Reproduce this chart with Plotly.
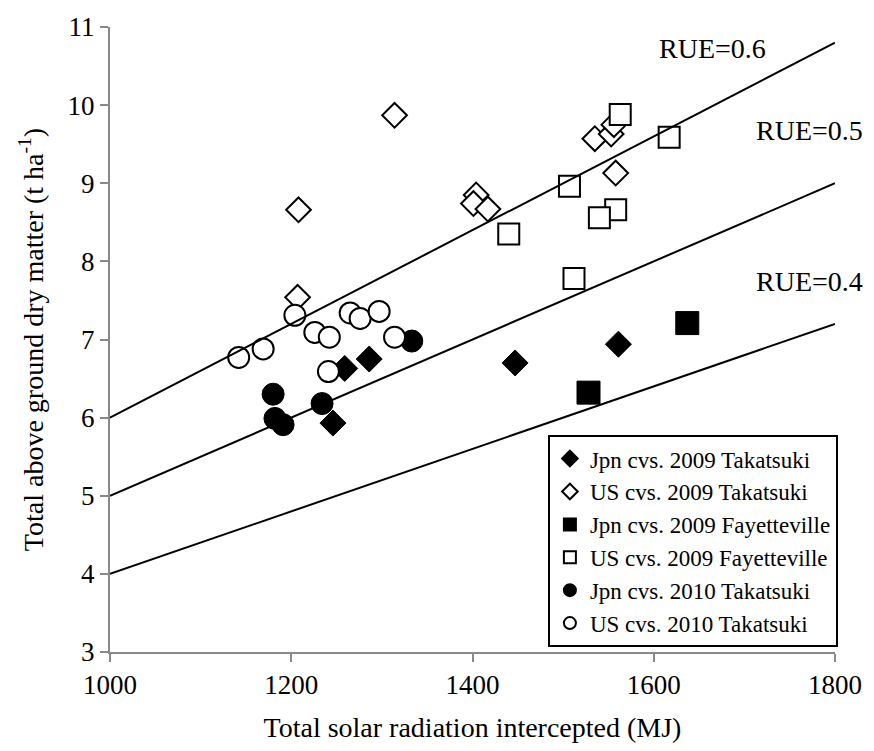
import plotly.graph_objects as go

# ---- data ----
jpn09_tak_x = [1259, 1286, 1246, 1447, 1561]
jpn09_tak_y = [6.63, 6.75, 5.93, 6.70, 6.94]

us09_tak_x = [1314, 1208, 1207, 1404, 1401, 1417, 1535, 1553, 1558, 1556]
us09_tak_y = [9.87, 8.66, 7.54, 8.85, 8.74, 8.67, 9.57, 9.63, 9.13, 9.75]

jpn09_fay_x = [1637, 1528]
jpn09_fay_y = [7.21, 6.32]

us09_fay_x = [1563, 1617, 1507, 1558, 1540, 1440, 1512]
us09_fay_y = [9.88, 9.59, 8.96, 8.66, 8.56, 8.35, 7.78]

jpn10_tak_x = [1180, 1182, 1191, 1234, 1333]
jpn10_tak_y = [6.30, 5.99, 5.91, 6.18, 6.98]

us10_tak_x = [1142, 1169, 1204, 1226, 1242, 1265, 1276, 1297, 1241, 1314]
us10_tak_y = [6.77, 6.88, 7.31, 7.09, 7.03, 7.34, 7.27, 7.36, 6.59, 7.03]

rue_values = [0.6, 0.5, 0.4]
rue_line_x = [1000, 1800]
rue_label_x = [1665, 1772, 1772]
rue_label_y = [10.73, 9.68, 7.74]

x_ticks = [1000, 1200, 1400, 1600, 1800]
y_ticks = [3, 4, 5, 6, 7, 8, 9, 10, 11]

FONT = "Liberation Serif"
AXIS_GRAY = "#898989"

fig = go.Figure()

series = [
    ("Jpn cvs. 2009 Takatsuki", jpn09_tak_x, jpn09_tak_y, "diamond", "black", 20),
    ("US cvs. 2009 Takatsuki", us09_tak_x, us09_tak_y, "diamond", "white", 19),
    ("Jpn cvs. 2009 Fayetteville", jpn09_fay_x, jpn09_fay_y, "square", "black", 23),
    ("US cvs. 2009 Fayetteville", us09_fay_x, us09_fay_y, "square", "white", 21),
    ("Jpn cvs. 2010 Takatsuki", jpn10_tak_x, jpn10_tak_y, "circle", "black", 22),
    ("US cvs. 2010 Takatsuki", us10_tak_x, us10_tak_y, "circle", "white", 21),
]

for name, xs, ys, sym, fill, size in series:
    fig.add_trace(go.Scatter(
        x=xs, y=ys, mode="markers", name=name,
        marker=dict(symbol=sym, color=fill, size=size,
                    line=dict(color="black", width=2 if fill == "white" else 1)),
    ))

for rue in rue_values:
    fig.add_trace(go.Scatter(
        x=rue_line_x, y=[rue * v / 100 for v in rue_line_x],
        mode="lines", line=dict(color="black", width=2),
        showlegend=False, hoverinfo="skip",
    ))

for rue, lx, ly in zip(rue_values, rue_label_x, rue_label_y):
    fig.add_annotation(x=lx, y=ly, text=f"RUE={rue}", showarrow=False,
                       font=dict(family=FONT, size=28, color="black"))

fig.update_layout(
    width=874, height=751,
    margin=dict(l=110, r=33, t=19, b=99),
    paper_bgcolor="white", plot_bgcolor="white",
    font=dict(family=FONT, size=27, color="black"),
    showlegend=True,
    legend=dict(
        x=1.004, xanchor="right", y=0.347, yanchor="top",
        bgcolor="white", bordercolor="black", borderwidth=2,
        font=dict(family=FONT, size=23, color="black"),
        itemsizing="constant", tracegroupgap=0,
        entrywidth=300, entrywidthmode="pixels",
    ),
    xaxis=dict(
        range=[1000, 1800], tickvals=x_ticks, ticktext=[str(v) for v in x_ticks],
        showgrid=False, zeroline=False, showline=True, linecolor=AXIS_GRAY, linewidth=2,
        ticks="outside", ticklen=8, tickwidth=2, tickcolor=AXIS_GRAY,
        tickfont=dict(family=FONT, size=27, color="black"),
        title=dict(text="Total solar radiation intercepted (MJ)",
                   font=dict(family=FONT, size=28, color="black"), standoff=18),
    ),
    yaxis=dict(
        range=[3, 11], tickvals=y_ticks, ticktext=[str(v) for v in y_ticks],
        showgrid=False, zeroline=False, showline=True, linecolor=AXIS_GRAY, linewidth=2,
        ticks="outside", ticklen=8, tickwidth=2, tickcolor=AXIS_GRAY,
        tickfont=dict(family=FONT, size=27, color="black"),
        title=dict(text="Total above ground dry matter (t ha<sup>-1</sup>)",
                   font=dict(family=FONT, size=28, color="black"), standoff=16),
    ),
)

fig.write_html("out.html")
